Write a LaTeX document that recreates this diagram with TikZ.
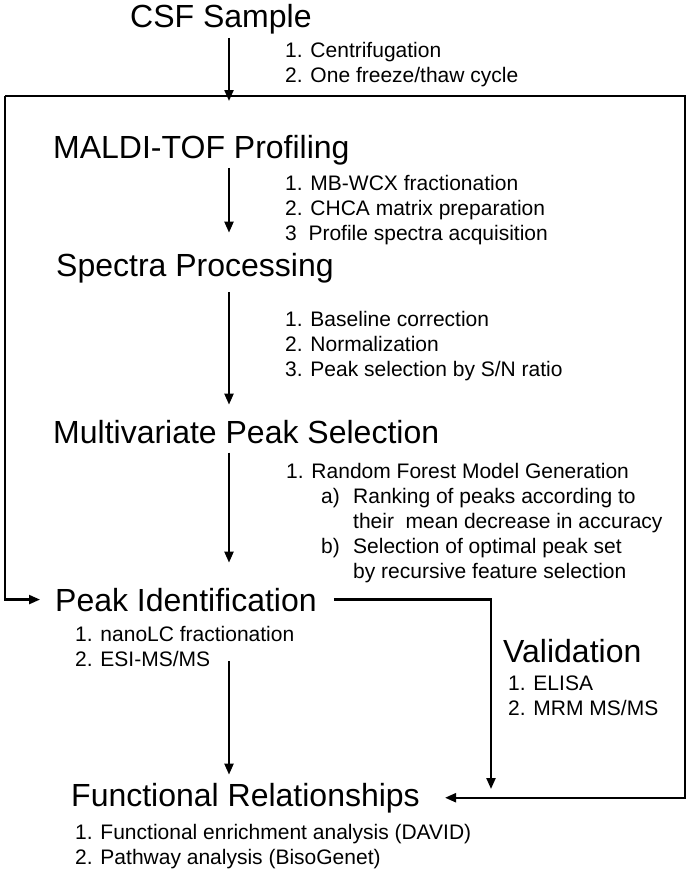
\documentclass[tikz,border=0pt]{standalone}
\usepackage{fontspec}
\setmainfont{Liberation Sans}
\usetikzlibrary{arrows.meta}

\begin{document}
\begin{tikzpicture}[
		x=1pt,y=-1pt,
		every node/.style={inner sep=3pt,anchor=base west},
		head/.style={font=\fontsize{32}{38}\selectfont},
		steps/.style={font=\fontsize{21}{25}\selectfont,align=left},
		flow/.style={line width=2.2pt,-{Triangle[length=11pt,width=9pt]}}
		]
		\useasboundingbox (0,0) rectangle (691,875);
		\coordinate (spine) at (229,0);
		\coordinate (tl) at (5,96);
		\coordinate (tr) at (685,96);
		\coordinate (entry) at (229,101);
		\coordinate (vdrop) at (491,789);
		
		\node[head] (csf) at (127,28) {CSF Sample};
		\node[steps] (csfsteps) at (282,82) {1. Centrifugation\\2. One freeze/thaw cycle};
		\node[head] (maldi) at (50,158) {MALDI-TOF Profiling};
		\node[steps] (maldisteps) at (282,240) {1. MB-WCX fractionation\\2. CHCA matrix preparation\\3\ \ Profile spectra acquisition};
		\node[head] (spec) at (53,276) {Spectra Processing};
		\node[steps] (specsteps) at (282,376) {1. Baseline correction\\2. Normalization\\3. Peak selection by S/N ratio};
		\node[head] (multi) at (50,443) {Multivariate Peak Selection};
		\node[steps] (multisteps) at (283,578) {1. Random Forest Model Generation\\
			\hspace*{35pt}\makebox[32pt][l]{a)}Ranking of peaks according to\\
			\hspace*{67pt}their\ \ mean decrease in accuracy\\
			\hspace*{35pt}\makebox[32pt][l]{b)}Selection of optimal peak set\\
			\hspace*{67pt}by recursive feature selection};
		\node[head] (peakid) at (52,611) {Peak Identification};
		\node[steps] (peaksteps) at (72,666) {1. nanoLC fractionation\\2. ESI-MS/MS};
		\node[head] (valid) at (500,662) {Validation};
		\node[steps] (validsteps) at (505,715) {1. ELISA\\2. MRM MS/MS};
		\node[head] (func) at (68,806) {Functional Relationships};
		\node[steps] (funcsteps) at (72,864) {1. Functional enrichment analysis (DAVID)\\2. Pathway analysis (BisoGenet)};
		
		\draw[flow] (csf.south -| spine) -- (entry);
		\draw[flow,shorten >=17pt] (maldi.south -| spine) -- (spec.north -| spine);
		\draw[flow,shorten <=6pt,shorten >=12pt] (spec.south -| spine) -- (multi.north -| spine);
		\draw[flow,shorten <=6pt,shorten >=22pt] (multi.south -| spine) -- (peakid.north -| spine);
		\draw[flow,shorten <=-8pt,shorten >=5pt] (peaksteps.south -| spine) -- (func.north -| spine);
		\draw[flow,shorten >=12pt] (tl) |- (peakid.west);
		\draw[flow,shorten >=22pt,line join=miter] (tl) -- (tr) |- (func.east);
		\draw[flow,shorten <=14pt] (peakid.east) -| (vdrop);
		\end{tikzpicture}
\end{document}
